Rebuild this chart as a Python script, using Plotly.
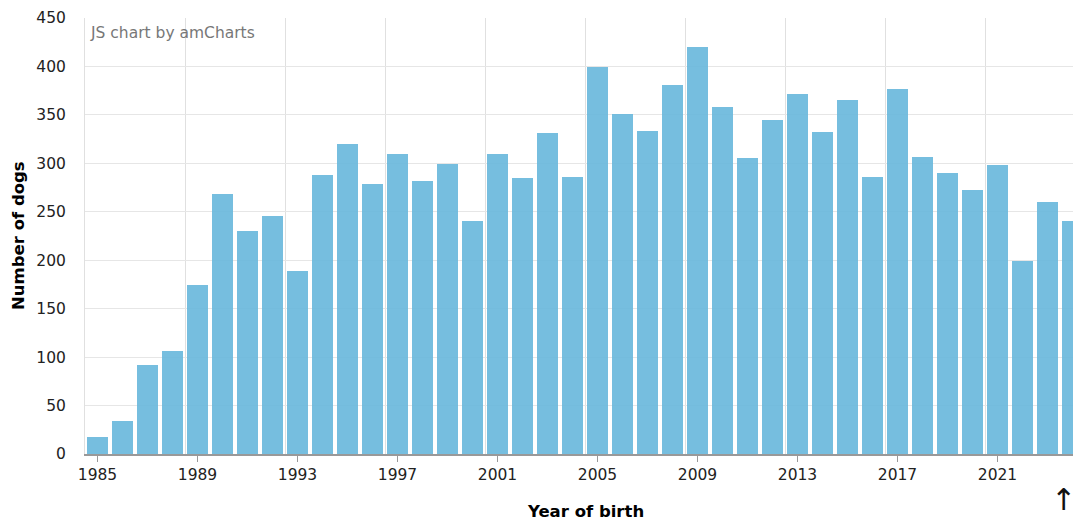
import plotly.graph_objects as go

years = list(range(1985, 2025))
dogs = [18, 34, 92, 106, 174, 268, 230, 246, 189, 288,
        320, 279, 310, 282, 299, 241, 310, 285, 331, 286,
        399, 351, 333, 381, 420, 358, 306, 345, 372, 332,
        365, 286, 377, 307, 290, 272, 298, 199, 260, 241]
tick_years = years[::4]
grid_years = [y - 0.5 for y in tick_years]
y_ticks = list(range(0, 451, 50))

W, H = 1073, 521
ml, mr, mt, mb = 85, 0, 18, 67
pw = W - ml - mr
ph = H - mt - mb

fig = go.Figure(go.Bar(
    x=years, y=dogs, width=0.83,
    marker=dict(color="#67b7dc", opacity=0.9, line=dict(width=0)),
))

font_family = "DejaVu Sans, Verdana, sans-serif"

fig.update_layout(
    width=W, height=H,
    margin=dict(l=ml, r=mr, t=mt, b=mb),
    paper_bgcolor="white", plot_bgcolor="white",
    showlegend=False, bargap=0,
    font=dict(family=font_family, size=15, color="#222222"),
    xaxis=dict(
        range=[1984.5, 1984.5 + pw / 25.0],
        tickmode="array", tickvals=tick_years, ticktext=[str(y) for y in tick_years],
        showgrid=False, zeroline=False,
        ticks="outside", ticklen=6, tickcolor="#999999", tickwidth=1,
        showline=True, linecolor="#999999", linewidth=1.5,
        tickfont=dict(size=15.5, color="#222222"),
        minor=dict(tickmode="array", tickvals=grid_years, showgrid=True,
                   gridcolor="#e0e0e0", gridwidth=1, ticks=""),
    ),
    yaxis=dict(
        range=[0, 450],
        tickmode="array", tickvals=y_ticks,
        showgrid=True, gridcolor="#e6e6e6", gridwidth=1,
        zeroline=False, showline=True, linecolor="#e0e0e0", linewidth=1, ticks="",
        ticklabelstandoff=15,
        tickfont=dict(size=15.5, color="#222222"),
    ),
    annotations=[
        dict(text="JS chart by amCharts", xref="paper", yref="paper",
             x=(88 - ml) / pw, y=(H - mb - 33) / ph, xanchor="left", yanchor="middle",
             showarrow=False, font=dict(size=15.5, color="#777777", family=font_family)),
        dict(text="<b>Number of dogs</b>", xref="paper", yref="paper",
             x=(18 - ml) / pw, y=0.5, xanchor="center", yanchor="middle", textangle=-90,
             showarrow=False, font=dict(size=16.5, color="#000000", family=font_family)),
        dict(text="<b>Year of birth</b>", xref="paper", yref="paper",
             x=(585 - ml) / pw, y=((H - mb) - 511) / ph, xanchor="center", yanchor="middle",
             showarrow=False, font=dict(size=16.5, color="#000000", family=font_family)),
        dict(text="↑", xref="paper", yref="paper",
             x=(1063 - ml) / pw, y=((H - mb) - 500) / ph, xanchor="center", yanchor="middle",
             showarrow=False, font=dict(size=30, color="#111111", family=font_family)),
    ],
)

fig.write_html("out.html", config={"displayModeBar": False})

with open("out.html", "r", encoding="utf-8") as f:
    html = f.read()
html = html.replace("<head>", "<head><style>html,body{margin:0;padding:0;overflow:hidden;}</style>", 1)
with open("out.html", "w", encoding="utf-8") as f:
    f.write(html)
